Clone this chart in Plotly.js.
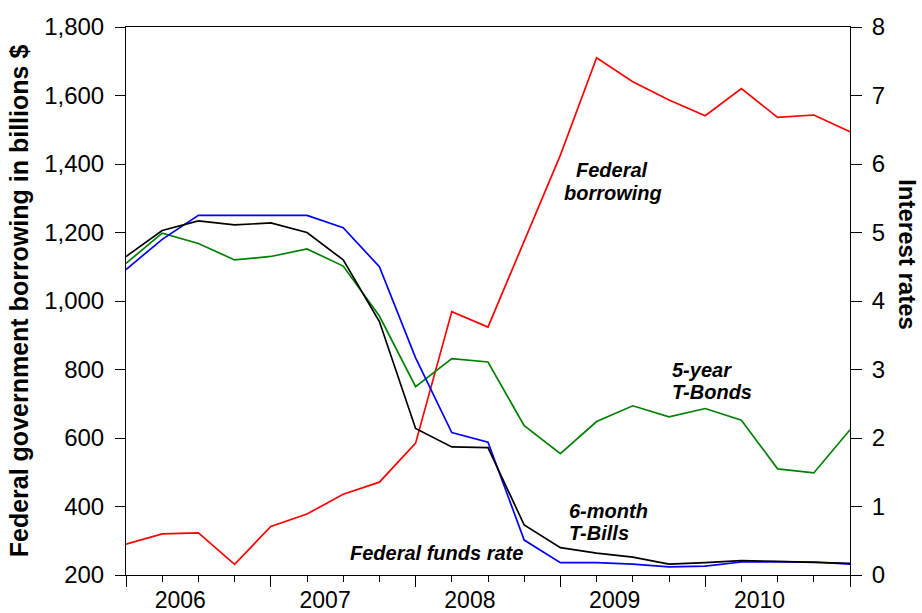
<!DOCTYPE html>
<html>
<head>
<meta charset="utf-8">
<script src="https://cdn.plot.ly/plotly-3.0.1.min.js"></script>
<style>html,body{margin:0;padding:0;background:#fff;}#chart{width:922px;height:613px;}</style>
</head>
<body>
<div id="chart"></div>
<script>
// Quarterly observations, 2006Q1 .. 2011Q1
const quarters = ["2006Q1","2006Q2","2006Q3","2006Q4","2007Q1","2007Q2","2007Q3","2007Q4",
  "2008Q1","2008Q2","2008Q3","2008Q4","2009Q1","2009Q2","2009Q3","2009Q4",
  "2010Q1","2010Q2","2010Q3","2010Q4","2011Q1"];
// Federal government borrowing, billions $ (left axis)
const federalBorrowing = [290, 320, 323, 231, 342, 378, 436, 471, 585, 969, 924, 1176,
  1426, 1710, 1640, 1587, 1541, 1620, 1536, 1543, 1494];
// Interest rates, % (right axis)
const fedFundsRate = [4.46, 4.90, 5.25, 5.25, 5.26, 5.25, 5.07, 4.50, 3.17, 2.08, 1.94, 0.51,
  0.18, 0.18, 0.16, 0.12, 0.13, 0.19, 0.19, 0.19, 0.16];
const tBills6m = [4.65, 5.03, 5.17, 5.11, 5.14, 5.00, 4.60, 3.70, 2.14, 1.87, 1.86, 0.73,
  0.40, 0.32, 0.26, 0.16, 0.18, 0.21, 0.20, 0.19, 0.17];
const tBonds5y = [4.55, 4.99, 4.84, 4.60, 4.65, 4.76, 4.51, 3.78, 2.75, 3.16, 3.11, 2.18,
  1.77, 2.24, 2.47, 2.31, 2.43, 2.26, 1.55, 1.49, 2.12];
const yearLabels = ["2006","2007","2008","2009","2010"];

// decimal-year position of each quarter
const xq = quarters.map(q => parseInt(q.slice(0,4)) + (parseInt(q.slice(5)) - 1) * 0.25);
const yearNums = yearLabels.map(Number);
const labelPos = yearNums.map(y => y + 0.375);

const FONT = "Liberation Sans, Arial, Helvetica, sans-serif";
const lw = 1.7;

const traces = [
  {x: xq, y: federalBorrowing, type: "scatter", mode: "lines", name: "Federal borrowing",
   line: {color: "#FF0000", width: lw}, xaxis: "x", yaxis: "y"},
  {x: xq, y: tBonds5y, type: "scatter", mode: "lines", name: "5-year T-Bonds",
   line: {color: "#008000", width: lw}, xaxis: "x", yaxis: "y2"},
  {x: xq, y: fedFundsRate, type: "scatter", mode: "lines", name: "Federal funds rate",
   line: {color: "#0000FF", width: lw}, xaxis: "x", yaxis: "y2"},
  {x: xq, y: tBills6m, type: "scatter", mode: "lines", name: "6-month T-Bills",
   line: {color: "#000000", width: lw}, xaxis: "x", yaxis: "y2"},
  {x: labelPos, y: labelPos.map(() => null), type: "scatter", mode: "lines", showlegend: false,
   hoverinfo: "skip", xaxis: "x2", yaxis: "y"}
];

const annFont = {family: FONT, size: 20, color: "#000"};
function lbl(text, x, y, xanchor) {
  return {text: "<b><i>" + text + "</i></b>", x: x, y: y, xref: "x", yref: "y",
    showarrow: false, xanchor: xanchor, yanchor: "middle", font: annFont, borderpad: 0};
}

const layout = {
  width: 922, height: 613,
  margin: {l: 126, r: 72, t: 27, b: 38, pad: 0},
  paper_bgcolor: "#fff", plot_bgcolor: "#fff",
  showlegend: false,
  font: {family: FONT, size: 24, color: "#000"},
  xaxis: {
    range: [2006, 2011], tickmode: "linear", tick0: 2006, dtick: 1,
    ticks: "outside", ticklen: 11, tickwidth: 1, tickcolor: "#000",
    showticklabels: false, showgrid: false, zeroline: false,
    showline: true, linecolor: "#000", linewidth: 1, mirror: true,
    minor: {dtick: 0.25, tick0: 2006, ticks: "outside", ticklen: 6, tickwidth: 1, tickcolor: "#000", showgrid: false},
    automargin: false
  },
  xaxis2: {
    overlaying: "x", side: "bottom", range: [2006, 2011],
    tickmode: "array", tickvals: labelPos, ticktext: yearLabels,
    ticks: "", showline: false, showgrid: false, zeroline: false,
    ticklabelstandoff: 9, tickfont: {family: FONT, size: 23, color: "#000"},
    automargin: false
  },
  yaxis: {
    range: [200, 1800], tickmode: "linear", tick0: 200, dtick: 200, tickformat: ",d",
    ticks: "outside", ticklen: 10, tickwidth: 1, tickcolor: "#000",
    showgrid: false, zeroline: false, showline: true, linecolor: "#000", linewidth: 1,
    tickfont: {family: FONT, size: 24, color: "#000"}, ticklabelstandoff: 6,
    title: {text: "<b>Federal government borrowing in billions $</b>", standoff: 8,
      font: {family: FONT, size: 25, color: "#000"}},
    automargin: false
  },
  yaxis2: {
    overlaying: "y", side: "right", range: [0, 8], tickmode: "linear", tick0: 0, dtick: 1,
    ticks: "outside", ticklen: 11, tickwidth: 1, tickcolor: "#000",
    showgrid: false, zeroline: false, showline: true, linecolor: "#000", linewidth: 1,
    tickfont: {family: FONT, size: 24, color: "#000"}, ticklabelstandoff: 5,
    automargin: false
  },
  annotations: [
    lbl("Federal", 2009.356, 1382, "center"),
    lbl("borrowing", 2009.363, 1316, "center"),
    lbl("5-year", 2009.764, 798, "left"),
    lbl("T-Bonds", 2009.764, 734, "left"),
    lbl("6-month", 2009.052, 387, "left"),
    lbl("T-Bills", 2009.052, 323, "left"),
    lbl("Federal funds rate", 2007.540, 264, "left"),
    {text: "<b>Interest rates</b>", xref: "paper", yref: "paper", x: 1.0785, y: 0.584,
     xanchor: "center", yanchor: "middle", textangle: 90, showarrow: false,
     font: {family: FONT, size: 24, color: "#000"}}
  ]
};

Plotly.newPlot("chart", traces, layout, {staticPlot: true, displayModeBar: false});
</script>
</body>
</html>
